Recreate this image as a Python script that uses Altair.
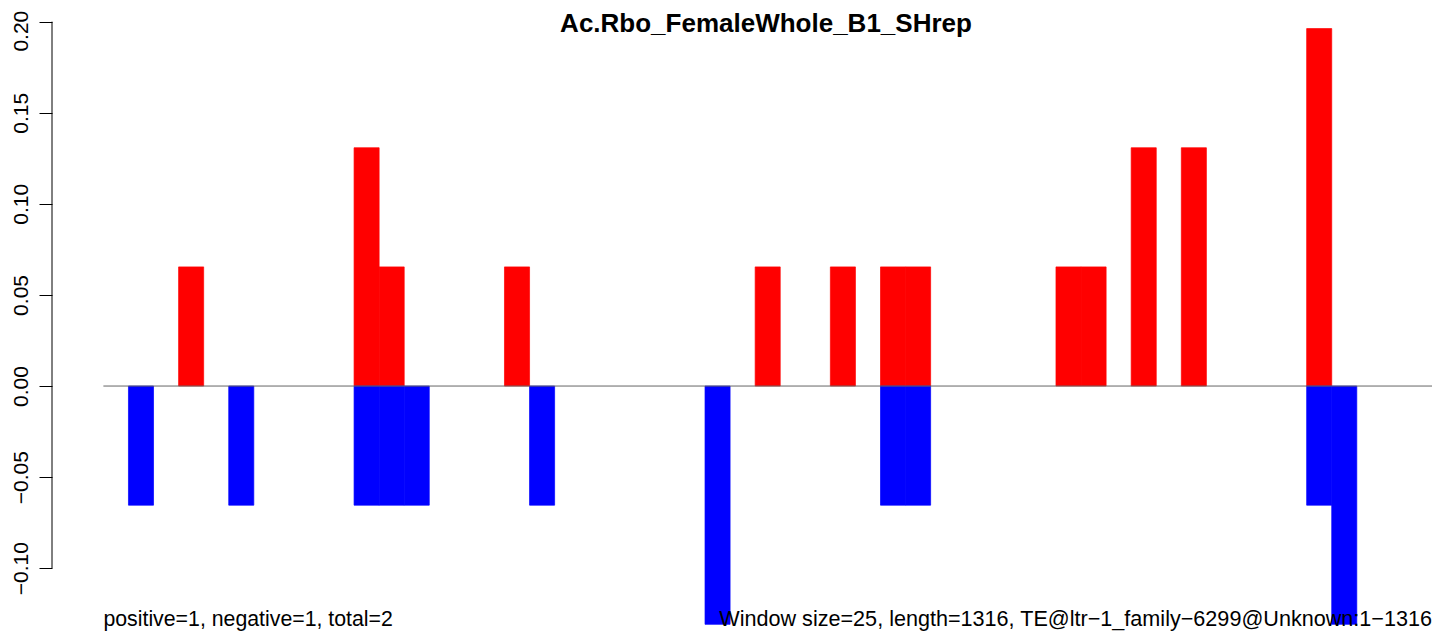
import altair as alt
import pandas as pd

# Window index (1-based), window size 25 bp over length 1316
n_windows = 53
window_ids = list(range(1, n_windows + 1))

# positive (red) values per window
pos_values = [
    0, 0, 0, 0.0654, 0, 0, 0, 0, 0, 0,
    0.1308, 0.0654, 0, 0, 0, 0, 0.0654, 0, 0, 0,
    0, 0, 0, 0, 0, 0, 0.0654, 0, 0, 0.0654,
    0, 0.0654, 0.0654, 0, 0, 0, 0, 0, 0.0654, 0.0654,
    0, 0.1308, 0, 0.1308, 0, 0, 0, 0, 0.1962, 0,
    0, 0, 0,
]
# negative (blue) values per window
neg_values = [
    0, -0.0654, 0, 0, 0, -0.0654, 0, 0, 0, 0,
    -0.0654, -0.0654, -0.0654, 0, 0, 0, 0, -0.0654, 0, 0,
    0, 0, 0, 0, -0.1308, 0, 0, 0, 0, 0,
    0, -0.0654, -0.0654, 0, 0, 0, 0, 0, 0, 0,
    0, 0, 0, 0, 0, 0, 0, 0, -0.0654, -0.1308,
    0, 0, 0,
]

y_ticks = [-0.10, -0.05, 0.00, 0.05, 0.10, 0.15, 0.20]
title_text = "Ac.Rbo_FemaleWhole_B1_SHrep"
left_note = "positive=1, negative=1, total=2"
right_note = "Window size=25, length=1316, TE@ltr\u22121_family\u22126299@Unknown:1\u22121316"

rows = []
for w, p, q in zip(window_ids, pos_values, neg_values):
    rows.append({"start": w - 1, "end": w, "value": p, "zero": 0.0, "sign": "pos"})
    rows.append({"start": w - 1, "end": w, "value": q, "zero": 0.0, "sign": "neg"})
df = pd.DataFrame(rows)
df = df[df["value"] != 0]

FONT = "Liberation Sans"
xscale = alt.Scale(domain=[-2.05, n_windows], nice=False, zero=False)
yscale = alt.Scale(domain=[-0.1361, 0.2075], nice=False, zero=False)
color_scale = alt.Scale(domain=["pos", "neg"], range=["#FF0000", "#0000FF"])

bars = alt.Chart(df).mark_rect(strokeWidth=0.7).encode(
    x=alt.X("start:Q", scale=xscale, axis=None),
    x2="end:Q",
    y=alt.Y(
        "value:Q",
        scale=yscale,
        title=None,
        axis=alt.Axis(
            values=y_ticks,
            format=".2f",
            domain=False,
            grid=False,
            ticks=True,
            tickSize=13,
            tickColor="black",
            tickWidth=1,
            labelAngle=270,
            labelAlign="center",
            labelBaseline="alphabetic",
            labelPadding=12,
            labelOffset=alt.ExprRef(expr="datum.value > 0.19 ? 9 : 0"),
            labelFont=FONT,
            labelFontSize=21,
            labelColor="black",
        ),
    ),
    y2="zero:Q",
    color=alt.Color("sign:N", scale=color_scale, legend=None),
    stroke=alt.Color("sign:N", scale=color_scale, legend=None),
)

zero_line = alt.Chart(pd.DataFrame({"x0": [0], "x1": [n_windows], "yz": [0.0]})).mark_rule(
    color="#666666", strokeWidth=1
).encode(
    x=alt.X("x0:Q", scale=xscale, axis=None),
    x2="x1:Q",
    y=alt.Y("yz:Q", scale=yscale, title=None),
)

axis_line = alt.Chart(pd.DataFrame({"lo": [min(y_ticks)], "hi": [max(y_ticks)]})).mark_rule(
    color="black", strokeWidth=1
).encode(
    x=alt.value(0),
    y=alt.Y("lo:Q", scale=yscale, title=None),
    y2="hi:Q",
)

left_txt = alt.Chart(pd.DataFrame({"tx": [0], "label": [left_note]})).mark_text(
    align="left", baseline="alphabetic", font=FONT, fontSize=21.3, color="black"
).encode(
    x=alt.X("tx:Q", scale=xscale, axis=None),
    y=alt.value(618),
    text="label:N",
)

right_txt = alt.Chart(pd.DataFrame({"tx": [n_windows], "label": [right_note]})).mark_text(
    align="right", baseline="alphabetic", font=FONT, fontSize=21.6, color="black"
).encode(
    x=alt.X("tx:Q", scale=xscale, axis=None),
    y=alt.value(618),
    text="label:N",
)

title = alt.Chart(pd.DataFrame({"label": [title_text]})).mark_text(
    align="center", baseline="alphabetic", font=FONT, fontSize=26, fontWeight="bold", color="black"
).encode(
    x=alt.value(714),
    y=alt.value(24),
    text="label:N",
)

chart = alt.layer(bars, zero_line, axis_line, left_txt, right_txt, title).properties(
    width=1380,
    height=626,
    autosize=alt.AutoSizeParams(type="none"),
    padding={"left": 44, "top": 0, "right": 0, "bottom": 0},
    background="white",
).configure_view(stroke=None)

chart.save("out.html", embed_options={"renderer": "svg", "actions": False})
